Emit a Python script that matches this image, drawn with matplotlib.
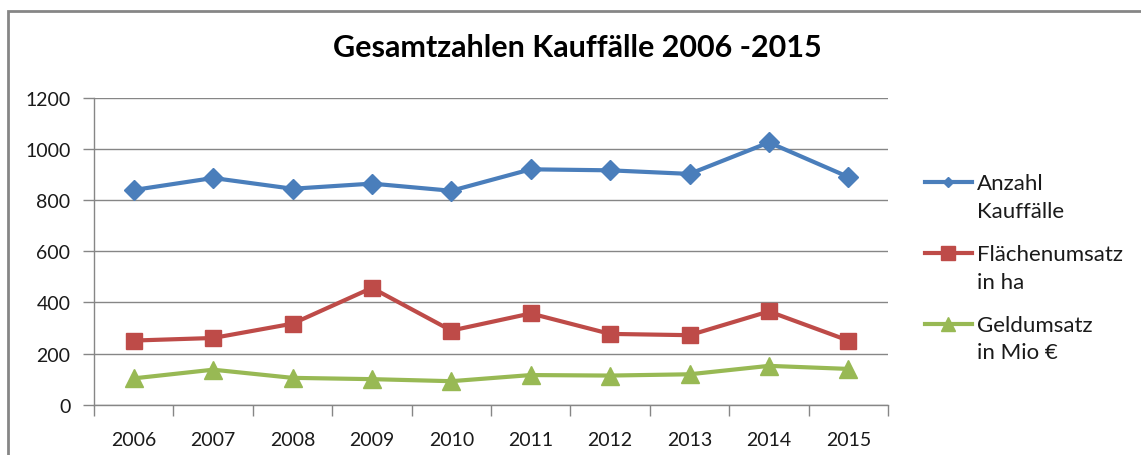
import matplotlib
matplotlib.use("Agg")
import matplotlib.pyplot as plt
from matplotlib.legend_handler import HandlerLine2D
from matplotlib.patches import Rectangle

# Gesamtzahlen Kauffälle 2006-2015
jahre = ["2006", "2007", "2008", "2009", "2010", "2011", "2012", "2013", "2014", "2015"]
anzahl_kauffaelle = [840, 887, 845, 865, 837, 921, 917, 903, 1026, 891]
flaechenumsatz_ha = [251, 261, 317, 457, 290, 357, 277, 272, 365, 251]
geldumsatz_mio = [103, 137, 105, 100, 92, 116, 114, 119, 152, 140]

labels = ["Anzahl\nKauffälle", "Flächenumsatz\nin ha", "Geldumsatz\nin Mio €"]
farben = ["#4A7EBB", "#BE4B48", "#98B954"]
marker = ["D", "s", "^"]
msize = [10, 12, 13]
msize_legende = [5, 10, 10]

plt.rcParams['font.family'] = ['Lato', 'DejaVu Sans']


# legend handle should sit next to the first line of the label, not the last
class ErsteZeileHandler(HandlerLine2D):
    def __init__(self, ms, **kw):
        super().__init__(**kw)
        self.ms = ms

    def create_artists(self, legend, orig_handle, xdescent, ydescent,
                       width, height, fontsize, trans):
        artists = super().create_artists(legend, orig_handle, xdescent, ydescent,
                                         width, height, fontsize, trans)
        for a in artists:
            a.set_ydata([y + fontsize * 0.68 for y in a.get_ydata()])
        artists[-1].set_markersize(self.ms)
        return artists


fig = plt.figure(figsize=(11.41, 4.56), dpi=100)
ax = fig.add_axes([0.0824, 0.1103, 0.6959, 0.6726])

x = list(range(len(jahre)))
for werte, lab, c, m, s in zip([anzahl_kauffaelle, flaechenumsatz_ha, geldumsatz_mio],
                                labels, farben, marker, msize):
    ax.plot(x, werte, color=c, lw=3, marker=m, markersize=s,
            markerfacecolor=c, markeredgecolor=c, markeredgewidth=1,
            label=lab, zorder=3)

ax.set_xlim(-0.5, len(jahre) - 0.5)
ax.set_ylim(0, 1200)
ax.set_yticks(range(0, 1201, 200))
ax.set_xticks(x)
ax.set_xticklabels(jahre)
ax.set_xticks([i - 0.5 for i in range(len(jahre) + 1)], minor=True)
ax.tick_params(axis='x', which='major', length=0, pad=19, labelsize=14, labelcolor="#1a1a1a")
ax.tick_params(axis='x', which='minor', length=8, width=1, color="#868686", direction='out')
ax.tick_params(axis='y', length=8, width=1, color="#868686", pad=9, labelsize=14,
               labelcolor="#1a1a1a")
ax.grid(axis='y', color="#868686", lw=1)
ax.set_axisbelow(True)
for side in ["top", "right"]:
    ax.spines[side].set_visible(False)
for side in ["left", "bottom"]:
    ax.spines[side].set_color("#868686")
    ax.spines[side].set_linewidth(1)

fig.text(0.5057, 0.895, "Gesamtzahlen Kauffälle 2006 -2015", ha='center', va='center',
         fontsize=22, fontweight='bold', color="#000000")

handles, labs = ax.get_legend_handles_labels()
leg = fig.legend(handles, labs, loc='upper left', bbox_to_anchor=(0.8107, 0.618),
                 frameon=False, fontsize=16, handlelength=2.1, handletextpad=0.22,
                 labelspacing=1.05, borderpad=0, borderaxespad=0,
                 handler_map={h: ErsteZeileHandler(ms, numpoints=1)
                              for h, ms in zip(handles, msize_legende)})
for t in leg.get_texts():
    t.set_linespacing(1.47)
    t.set_color("#1a1a1a")

# chart frame
fig.add_artist(Rectangle((8 / 1141, -0.1), 1.2, 1 - 12 / 456 + 0.1,
                         transform=fig.transFigure, fill=False,
                         edgecolor="#868686", lw=2))

fig.savefig("out.png", dpi=100)
